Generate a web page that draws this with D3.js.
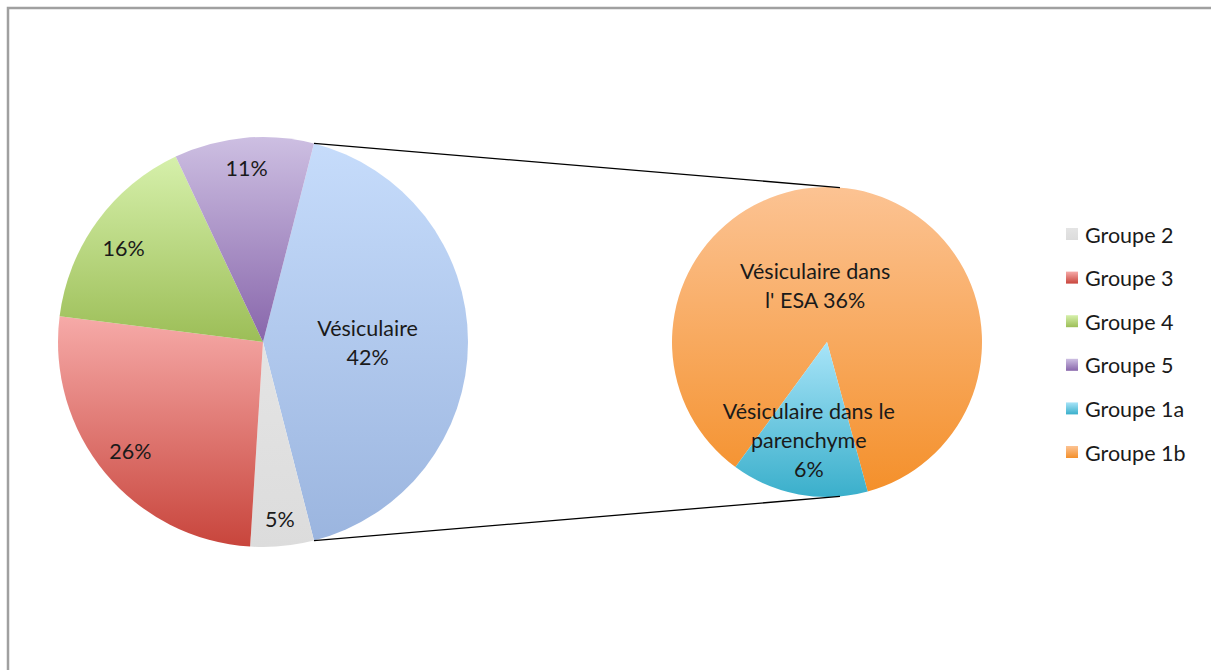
<!DOCTYPE html>
<html><head><meta charset="utf-8">
<script src="https://cdn.jsdelivr.net/npm/d3@7"></script>
<style>
html,body{margin:0;padding:0;background:#fff;}
svg{display:block;font-family:Lato,"Open Sans",sans-serif;}
</style></head>
<body>
<svg id="chart" width="1211" height="670"></svg>
<script>
// main pie: the first entry is the "Vésiculaire" split further in the second pie
const mainCategories = ["Vésiculaire", "Groupe 2", "Groupe 3", "Groupe 4", "Groupe 5"];
const mainValues = [42, 5, 26, 16, 11];
const mainLabels = ["Vésiculaire\n42%", "5%", "26%", "16%", "11%"];
const subCategories = ["Groupe 1b", "Groupe 1a"];
const subValues = [36, 6];
const subLabels = ["Vésiculaire dans\nl' ESA 36%", "Vésiculaire dans le\nparenchyme\n6%"];
const legendItems = ["Groupe 2", "Groupe 3", "Groupe 4", "Groupe 5", "Groupe 1a", "Groupe 1b"];

const colors = {
  "Vésiculaire": ["#c6dcfb", "#9bb5df"],
  "Groupe 2": ["#e4e4e4", "#dcdcdc"],
  "Groupe 3": ["#f6aaa8", "#c8453c"],
  "Groupe 4": ["#d6f0ab", "#9cbe57"],
  "Groupe 5": ["#cdbfe2", "#8866ab"],
  "Groupe 1a": ["#a8e4f8", "#3aafcb"],
  "Groupe 1b": ["#fcc393", "#f4902b"]
};

const svg = d3.select("#chart");
const defs = svg.append("defs");
Object.keys(colors).forEach((k, i) => {
  const g = defs.append("linearGradient").attr("id", "grad" + i)
    .attr("x1", 0).attr("y1", 0).attr("x2", 0).attr("y2", 1);
  g.append("stop").attr("offset", "0%").attr("stop-color", colors[k][0]);
  g.append("stop").attr("offset", "100%").attr("stop-color", colors[k][1]);
});
const gradId = k => "url(#grad" + Object.keys(colors).indexOf(k) + ")";

// frame
svg.append("path").attr("d", "M8,680 L8,8 L1220,8").attr("fill", "none")
  .attr("stroke", "#a0a0a0").attr("stroke-width", 2.5);

const deg = Math.PI / 180;
const c1 = {x: 263, y: 342, r: 205};
const c2 = {x: 827, y: 342, r: 155};

// Main pie: "other" slice centred on the right side (90°)
const otherSpan = mainValues[0] / d3.sum(mainValues) * 2 * Math.PI;
const mainStart = Math.PI / 2 - otherSpan / 2;
const pie1 = d3.pie().sort(null).value(d => d).startAngle(mainStart).endAngle(mainStart + 2 * Math.PI);
const arcs1 = pie1(mainValues);
const arc1 = d3.arc().innerRadius(0).outerRadius(c1.r);

const g1 = svg.append("g").attr("transform", `translate(${c1.x},${c1.y})`);
g1.selectAll("path").data(arcs1).enter().append("path")
  .attr("d", arc1).attr("fill", (d, i) => gradId(mainCategories[i]));

// Second pie
const subSpan1a = subValues[1] / d3.sum(subValues) * 2 * Math.PI;
const subStart = (Math.PI + 10.5 * deg) + subSpan1a / 2; // orange starts after the blue slice
const pie2 = d3.pie().sort(null).value(d => d).startAngle(subStart).endAngle(subStart + 2 * Math.PI);
const arcs2 = pie2(subValues);
const arc2 = d3.arc().innerRadius(0).outerRadius(c2.r);
const g2 = svg.append("g").attr("transform", `translate(${c2.x},${c2.y})`);
g2.selectAll("path").data(arcs2).enter().append("path")
  .attr("d", arc2).attr("fill", (d, i) => gradId(subCategories[i]));

// connector lines
const pt = (c, a, r) => [c.x + r * Math.sin(a), c.y - r * Math.cos(a)];
const a0 = arcs1[0].startAngle, a1 = arcs1[0].endAngle;
const conn = [
  [pt(c1, a0, c1.r), pt(c2, 4.8 * deg, c2.r)],
  [pt(c1, a1, c1.r), pt(c2, Math.PI - 4.8 * deg, c2.r)]
];
svg.selectAll("line.conn").data(conn).enter().append("line").attr("class", "conn")
  .attr("x1", d => d[0][0]).attr("y1", d => d[0][1])
  .attr("x2", d => d[1][0]).attr("y2", d => d[1][1])
  .attr("stroke", "#000").attr("stroke-width", 1.3);

// labels
const fs = 21.5, lh = 29;
function drawLabel(g, text, x, y) {
  const lines = text.split("\n");
  const t = g.append("text").attr("text-anchor", "middle").attr("font-size", fs).attr("fill", "#1a1a1a");
  lines.forEach((l, i) => {
    t.append("tspan").attr("x", x).attr("y", y + (i - (lines.length - 1) / 2) * lh).attr("dy", "0.35em").text(l);
  });
}
const labelRadius = [0.51, 0.87, 0.84, 0.82, 0.85];
const labelAngleShift = [0, 0, 0, -2, 0];
arcs1.forEach((d, i) => {
  const m = (d.startAngle + d.endAngle) / 2 + labelAngleShift[i] * deg;
  const p = pt({x: 0, y: 0}, m, labelRadius[i] * c1.r);
  drawLabel(g1, mainLabels[i], p[0], p[1] + (i === 0 ? 1 : 0));
});
// second pie labels
{
  const p = pt({x: 0, y: 0}, -12 * deg, 57);
  drawLabel(g2, subLabels[0], p[0], p[1]);
  const d2 = arcs2[1];
  const m2 = (d2.startAngle + d2.endAngle) / 2;
  const p2 = pt({x: 0, y: 0}, m2, 100);
  drawLabel(g2, subLabels[1], p2[0], p2[1]);
}

// legend
const ly = d3.scalePoint().domain(legendItems).range([235, 453]);
const lg = svg.append("g");
legendItems.forEach(k => {
  lg.append("rect").attr("x", 1066).attr("y", ly(k) - 7).attr("width", 12).attr("height", 12)
    .attr("fill", gradId(k));
  lg.append("text").attr("x", 1085).attr("y", ly(k)).attr("dy", "0.35em")
    .attr("font-size", fs).attr("fill", "#1a1a1a").text(k);
});
</script>
</body></html>
